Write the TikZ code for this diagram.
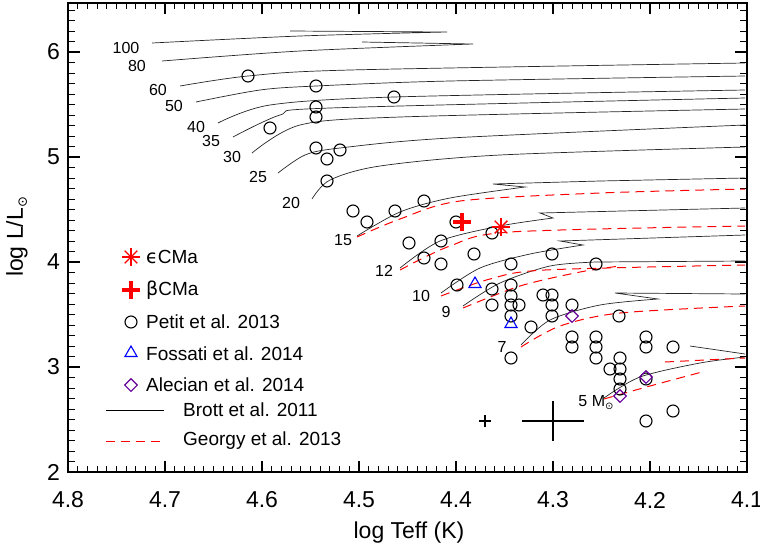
\documentclass[tikz,border=0pt]{standalone}
\usepackage{fontspec}
\setmainfont{Liberation Sans}
\newfontfamily\djv{DejaVu Sans}
\begin{document}
\begin{tikzpicture}[x=1pt,y=-1pt,
  trk/.style={black!85,line width=0.7pt},
  gtrk/.style={red,dash pattern=on 9pt off 6pt,line width=1pt},
  circ/.style={circle,draw=black,line width=1.1pt,minimum size=12pt,inner sep=0pt},
  tri/.style={regular polygon,regular polygon sides=3,draw=blue,line width=1.1pt,minimum size=14pt,inner sep=0pt},
  dia/.style={diamond,draw=violet!80!blue,line width=1.1pt,minimum width=13pt,minimum height=13pt,inner sep=0pt},
  lab/.style={font=\fontsize{16}{16}\selectfont,inner sep=0pt},
  leg/.style={font=\fontsize{19}{19}\selectfont,inner sep=0pt,anchor=west},
  tick/.style={font=\fontsize{23}{23}\selectfont,inner sep=0pt}]
\usetikzlibrary{shapes.geometric}
\useasboundingbox (0,0) rectangle (760,547);
% frame
\draw[line width=1.8pt] (68,3) rectangle (747,472);
% x ticks
\foreach \i in {0,...,70}{
  \pgfmathsetmacro\xx{68+\i*9.7}
  \pgfmathtruncatemacro\m{mod(\i,10)}
  \ifnum\m=0
    \draw[line width=1.2pt] (\xx,472) -- (\xx,461); \draw[line width=1.2pt] (\xx,3) -- (\xx,14);
  \else
    \draw[line width=1pt] (\xx,472) -- (\xx,466); \draw[line width=1pt] (\xx,3) -- (\xx,9);
  \fi}
% y ticks
\foreach \i in {0,...,44}{
  \pgfmathsetmacro\yy{472-\i*10.5}
  \pgfmathtruncatemacro\m{mod(\i,10)}
  \ifnum\m=0
    \draw[line width=1.2pt] (68,\yy) -- (80,\yy); \draw[line width=1.2pt] (747,\yy) -- (735,\yy);
  \else
    \draw[line width=1pt] (68,\yy) -- (75,\yy); \draw[line width=1pt] (747,\yy) -- (740,\yy);
  \fi}
\foreach \v [count=\k from 0] in {4.8,4.7,4.6,4.5,4.4,4.3,4.2,4.1}
  \node[tick] (xt\k) at (68+\k*97,500) {\v};
\foreach \v [count=\k from 0] in {2,3,4,5,6}
  \node[tick,anchor=east] (yt\k) at (60,472-\k*105) {\v};
\node[tick] (xlab) at (409,533) {log Teff (K)};
\node[tick,rotate=90] (ylab) at (17,237) {log L/L{\djv\raisebox{-4pt}{\fontsize{13}{13}\selectfont ⊙}}};
% Brott tracks
\draw[trk] plot[smooth] coordinates {(152,43)(300,36)(447,32)} -- (290,31);
\draw[trk] plot[smooth] coordinates {(162,61)(300,51)(473,44)} -- (362,42);
\draw[trk] plot[smooth] coordinates {(180,86)(248,76)(350,70)(745,63)};
\draw[trk] plot[smooth] coordinates {(196,102)(260,90)(316,86)(450,81)(745,76)};
\draw[trk] plot[smooth] coordinates {(218,123)(270,105)(394,97)(745,90)};
\draw[trk] plot[smooth] coordinates {(233,137)(280,115)(330,108)(745,98)};
\draw[trk] plot[smooth] coordinates {(252,153)(300,125)(400,117)(745,109)};
\draw[trk] plot[smooth] coordinates {(278,173)(305,155)(340,148)(450,138)(745,125)};
\draw[trk] plot[smooth] coordinates {(312,199)(330,180)(380,166)(500,155)(745,147)};
\draw[trk] plot[smooth] coordinates {(357,236)(400,212)(450,198)(525,187)} -- (493,184) -- (600,181) -- (745,178);
\draw[trk] plot[smooth] coordinates {(400,268)(440,241)(500,226)(553,218)} -- (540,213) -- (745,208);
\draw[trk] plot[smooth] coordinates {(441,293)(480,268)(530,254)(583,245)} -- (560,241) -- (745,235);
\draw[trk] plot[smooth] coordinates {(463,306)(500,283)(550,266)(596,262)} -- (745,261);
\draw[trk] plot[smooth] coordinates {(521,345)(550,320)(600,305)(658,299)} -- (615,293) -- (745,294);
\draw[trk] plot[smooth] coordinates {(604,398)(640,377)(700,363)(745,357)};
\draw[trk] (690,346) -- (745,354);
% Georgy tracks
\draw[gtrk] plot[smooth] coordinates {(357,237)(400,219)(460,201)(600,193)(745,189)};
\draw[gtrk] plot[smooth] coordinates {(400,270)(450,246)(510,232)(745,226)};
\draw[gtrk] plot[smooth] coordinates {(441,296)(490,279)(545,270)(745,265)};
\draw[gtrk] plot[smooth] coordinates {(463,308)(520,286)(580,272)(620,266)};
\draw[gtrk] plot[smooth] coordinates {(521,347)(560,326)(620,313)(745,306)};
\draw[gtrk] plot[smooth] coordinates {(604,399)(650,386)(702,372)};
\draw[gtrk] (665,362) -- (745,358);
% track labels
\node[lab] (m100) at (126,48) {100};
\node[lab] (m80) at (137,66) {80};
\node[lab] (m60) at (158,90) {60};
\node[lab] (m50) at (174,106) {50};
\node[lab] (m40) at (196,127) {40};
\node[lab] (m35) at (211,141) {35};
\node[lab] (m30) at (232,157) {30};
\node[lab] (m25) at (258,177) {25};
\node[lab] (m20) at (291,203) {20};
\node[lab] (m15) at (343,240) {15};
\node[lab] (m12) at (384,271) {12};
\node[lab] (m10) at (421,296) {10};
\node[lab] (m9) at (446,312) {9};
\node[lab] (m7) at (502,347) {7};
\node[lab] (m5) at (596,403) {5 M{\djv\raisebox{-3pt}{\fontsize{10}{10}\selectfont ⊙}}};
% Petit circles
\foreach \p [count=\k] in {(248,76),(316,86),(394,97),(316,107),(316,117),(270,128),(316,148),(340,150),(327,159),(327,181),(424,201),(353,211),(395,211),(367,222),
 (456,222),(492,233),(409,243),(441,241),(424,258),(441,264),(474,254),(511,264),(552,254),(596,264),(457,285),(492,289),(511,285),(511,296),(492,305),(511,305),(519,305),(511,316),(543,295),(552,295),(552,305),(552,316),(572,305),(531,327),(619,316),(572,337),(572,347),(596,337),(596,347),(596,358),(511,358),(610,369),(620,358),(620,369),(620,379),(620,389),(646,337),(646,347),(673,347),(646,379),(673,411),(646,421)}
  \node[circ] (c\k) at \p {};
% Fossati triangles
\node[tri] (f1) at (475,284) {};
\node[tri] (f2) at (511,324) {};
% Alecian diamonds
\node[dia] (a1) at (572,316) {};
\node[dia] (a2) at (646,377) {};
\node[dia] (a3) at (620,396) {};
% beta CMa cross
\node[inner sep=0pt] (bcma) at (462,222) {};
\draw[red,line width=4pt] (453,222) -- (471,222) (462,213) -- (462,231);
% epsilon CMa asterisk
\coordinate (ecma) at (501,227);
\foreach \a in {0,45,90,135} \draw[red,line width=1.4pt] (ecma) ++(\a:9) -- ++(\a+180:18);
% error bars
\coordinate (e1) at (485,421);
\draw[line width=1.1pt] (e1) ++(-6,0) -- ++(12,0) (e1) ++(0,-6) -- ++(0,12);
\coordinate (e2) at (553,421);
\draw[line width=1.2pt] (e2) ++(-31,0) -- ++(62,0) (e2) ++(0,-20) -- ++(0,40);
% legend
\coordinate (l1) at (131,257);
\foreach \a in {0,45,90,135} \draw[red,line width=1.4pt] (l1) ++(\a:9) -- ++(\a+180:18);
\node[leg] (t1) at (146,257) {{\djv ϵ}CMa};
\draw[red,line width=4pt] (122,290) -- (140,290) (131,281) -- (131,299);
\node[leg] (t2) at (146,290) {{\djv β}CMa};
\node[circ] (lc) at (131,322) {};
\node[leg] (t3) at (146,322) {Petit et al. 2013};
\node[tri] (lt) at (131,353) {};
\node[leg] (t4) at (146,354) {Fossati et al. 2014};
\node[dia] (ld) at (131,385) {};
\node[leg] (t5) at (146,385) {Alecian et al. 2014};
\coordinate (b1) at (106,410); \coordinate (b2) at (164,410);
\draw[line width=1pt] (b1) -- (b2);
\node[leg] (t6) at (183,410) {Brott et al. 2011};
\coordinate (g1) at (106,441); \coordinate (g2) at (164,441);
\draw[gtrk] (g1) -- (g2);
\node[leg] (t7) at (183,441) {Georgy et al. 2013};
\end{tikzpicture}
\end{document}
